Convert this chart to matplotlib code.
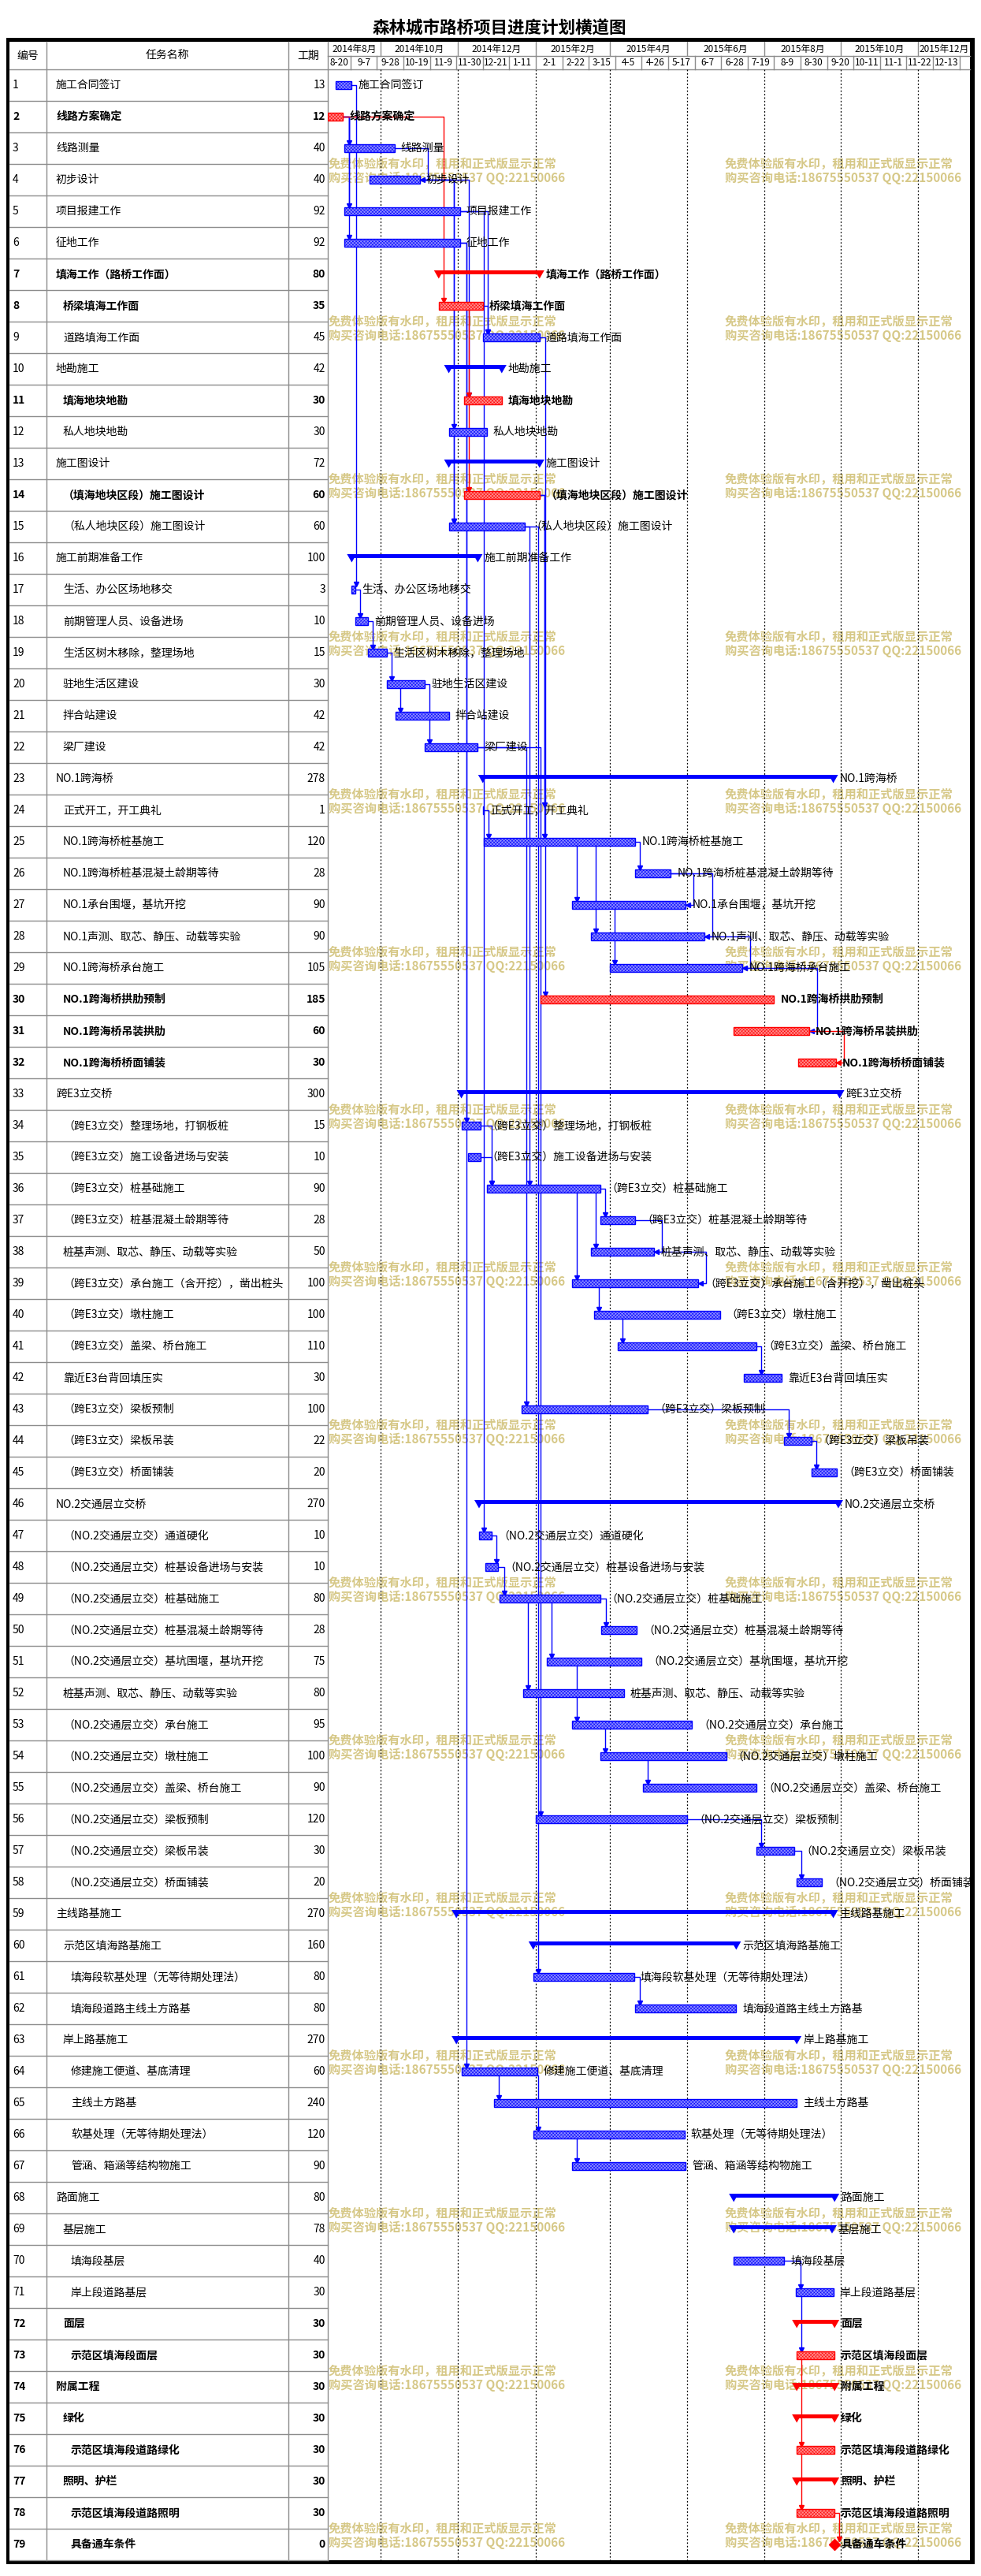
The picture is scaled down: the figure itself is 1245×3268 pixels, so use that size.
import datetime as dt
import matplotlib
matplotlib.use('Agg')
import matplotlib.pyplot as plt
from matplotlib.patches import Rectangle, Polygon

plt.rcParams['font.family'] = ['Noto Sans CJK SC', 'DejaVu Sans']
plt.rcParams['hatch.linewidth'] = 0.4

# ---------------- data ----------------
names = [
    '施工合同签订', '线路方案确定', '线路测量', '初步设计', '项目报建工作', '征地工作',
    '填海工作（路桥工作面）', '桥梁填海工作面', '道路填海工作面', '地勘施工', '填海地块地勘',
    '私人地块地勘', '施工图设计', '（填海地块区段）施工图设计', '（私人地块区段）施工图设计',
    '施工前期准备工作', '生活、办公区场地移交', '前期管理人员、设备进场', '生活区树木移除，整理场地',
    '驻地生活区建设', '拌合站建设', '梁厂建设', 'NO.1跨海桥', '正式开工，开工典礼',
    'NO.1跨海桥桩基施工', 'NO.1跨海桥桩基混凝土龄期等待', 'NO.1承台围堰，基坑开挖',
    'NO.1声测、取芯、静压、动载等实验', 'NO.1跨海桥承台施工', 'NO.1跨海桥拱肋预制',
    'NO.1跨海桥吊装拱肋', 'NO.1跨海桥桥面铺装', '跨E3立交桥', '（跨E3立交）整理场地，打钢板桩',
    '（跨E3立交）施工设备进场与安装', '（跨E3立交）桩基础施工', '（跨E3立交）桩基混凝土龄期等待',
    '桩基声测、取芯、静压、动载等实验', '（跨E3立交）承台施工（含开挖），凿出桩头',
    '（跨E3立交）墩柱施工', '（跨E3立交）盖梁、桥台施工', '靠近E3台背回填压实',
    '（跨E3立交）梁板预制', '（跨E3立交）梁板吊装', '（跨E3立交）桥面铺装', 'NO.2交通层立交桥',
    '（NO.2交通层立交）通道硬化', '（NO.2交通层立交）桩基设备进场与安装',
    '（NO.2交通层立交）桩基础施工', '（NO.2交通层立交）桩基混凝土龄期等待',
    '（NO.2交通层立交）基坑围堰，基坑开挖', '桩基声测、取芯、静压、动载等实验',
    '（NO.2交通层立交）承台施工', '（NO.2交通层立交）墩柱施工', '（NO.2交通层立交）盖梁、桥台施工',
    '（NO.2交通层立交）梁板预制', '（NO.2交通层立交）梁板吊装', '（NO.2交通层立交）桥面铺装',
    '主线路基施工', '示范区填海路基施工', '填海段软基处理（无等待期处理法）', '填海段道路主线土方路基',
    '岸上路基施工', '修建施工便道、基底清理', '主线土方路基', '软基处理（无等待期处理法）',
    '管涵、箱涵等结构物施工', '路面施工', '基层施工', '填海段基层', '岸上段道路基层', '面层',
    '示范区填海段面层', '附属工程', '绿化', '示范区填海段道路绿化', '照明、护栏',
    '示范区填海段道路照明', '具备通车条件']

levels = [0, 0, 0, 0, 0, 0, 0, 1, 1, 0, 1, 1, 0, 1, 1, 0, 1, 1, 1, 1, 1, 1, 0, 1, 1, 1, 1, 1, 1, 1,
          1, 1, 0, 1, 1, 1, 1, 1, 1, 1, 1, 1, 1, 1, 1, 0, 1, 1, 1, 1, 1, 1, 1, 1, 1, 1, 1, 1, 0, 1,
          2, 2, 1, 2, 2, 2, 2, 0, 1, 2, 2, 1, 2, 0, 1, 2, 1, 2, 2]

durations = [13, 12, 40, 40, 92, 92, 80, 35, 45, 42, 30, 30, 72, 60, 60, 100, 3, 10, 15, 30, 42, 42,
             278, 1, 120, 28, 90, 90, 105, 185, 60, 30, 300, 15, 10, 90, 28, 50, 100, 100, 110, 30,
             100, 22, 20, 270, 10, 10, 80, 28, 75, 80, 95, 100, 90, 120, 30, 20, 270, 160, 80, 80,
             270, 60, 240, 120, 90, 80, 78, 40, 30, 30, 30, 30, 30, 30, 30, 30, 0]

# start / finish of each bar, days after 2014-08-20
starts = [6, 0, 13, 33, 13, 13, 88, 88, 123, 96, 108, 96, 96, 108, 96, 19, 19, 22, 32, 47, 54, 77,
          123, 123, 124, 244, 194, 209, 224, 169, 322, 373, 106, 106, 111, 126, 216, 209, 194,
          211, 230, 330, 154, 362, 384, 120, 120, 125, 136, 217, 174, 155, 194, 216, 250, 165,
          340, 372, 102, 163, 163, 244, 102, 106, 132, 163, 194, 322, 322, 322, 371, 372, 372,
          372, 372, 372, 372, 372, 402]
finishes = [19, 12, 53, 73, 105, 105, 168, 123, 168, 138, 138, 126, 168, 168, 156, 119, 22, 32, 47,
            77, 96, 119, 401, 124, 244, 272, 284, 299, 329, 354, 382, 403, 406, 121, 121, 216, 244,
            259, 294, 311, 340, 360, 254, 384, 404, 405, 130, 135, 216, 245, 249, 235, 289, 316,
            340, 285, 370, 392, 401, 324, 243, 324, 372, 166, 372, 283, 284, 402, 400, 362, 401,
            402, 402, 402, 402, 402, 402, 402, 402]

summary_rows = [7, 10, 13, 16, 23, 33, 46, 59, 60, 63, 68, 69, 72, 74, 75, 77]
critical_rows = [2, 7, 8, 11, 14, 30, 31, 32, 72, 73, 74, 75, 76, 77, 78, 79]
milestone_rows = [79]

# dependency links (predecessor, successor, type)
links = [(1, 17, 'FS'), (2, 3, 'FS'), (2, 5, 'FS'), (2, 6, 'FS'), (2, 8, 'FS'), (3, 4, 'FF'),
         (4, 12, 'FS'), (4, 15, 'FS'), (4, 11, 'FS'), (5, 9, 'FS'), (6, 34, 'FS'), (6, 64, 'FS'),
         (5, 47, 'FS'), (9, 30, 'FS'), (14, 25, 'FS'), (14, 24, 'FS'), (15, 36, 'FS'),
         (22, 43, 'FS'), (22, 56, 'FS'), (15, 61, 'FS'),
         (8, 9, 'FS'), (8, 11, 'SS'), (11, 14, 'SS'), (12, 15, 'SS'), (17, 18, 'FS'),
         (18, 19, 'FS'), (19, 20, 'FS'), (20, 21, 'SS'), (20, 22, 'FS'), (24, 25, 'FS'),
         (25, 26, 'FS'), (25, 27, 'SS'), (25, 28, 'SS'), (27, 29, 'SS'), (26, 27, 'FF'),
         (26, 28, 'FF'), (28, 29, 'FF'), (29, 31, 'FF'), (31, 32, 'FF'), (34, 36, 'FS'),
         (35, 36, 'FS'), (36, 37, 'FS'), (36, 38, 'SS'), (36, 39, 'SS'), (37, 38, 'FF'),
         (38, 39, 'FF'), (39, 40, 'SS'), (40, 41, 'SS'), (41, 42, 'FS'), (43, 44, 'FS'),
         (44, 45, 'FS'), (47, 48, 'FS'), (48, 49, 'FS'), (49, 50, 'FS'), (49, 51, 'SS'),
         (49, 52, 'SS'), (51, 53, 'SS'), (53, 54, 'SS'), (54, 55, 'SS'), (56, 57, 'FS'),
         (57, 58, 'FS'), (61, 62, 'FS'), (64, 65, 'SS'), (64, 66, 'SS'), (66, 67, 'SS'),
         (70, 71, 'FS'), (71, 73, 'SS'), (73, 76, 'SS'), (76, 78, 'SS'), (78, 79, 'FS')]

base = dt.date(2014, 8, 20)
month_dates = [dt.date(2014, 8, 20), dt.date(2014, 10, 1), dt.date(2014, 12, 1), dt.date(2015, 2, 1),
               dt.date(2015, 4, 1), dt.date(2015, 6, 1), dt.date(2015, 8, 1), dt.date(2015, 10, 1),
               dt.date(2015, 12, 1)]
month_labels = ['2014年8月', '2014年10月', '2014年12月', '2015年2月', '2015年4月', '2015年6月',
                '2015年8月', '2015年10月', '2015年12月']
week_dates = [base] + [dt.date(2014, 9, 7) + dt.timedelta(days=21 * k) for k in range(24)]
x_end = 509.4

# ---------------- layout (pixels) ----------------
W, H = 1245, 3268
L, C1, C2, C3, R = 12, 59, 366, 416, 1231
HT, HM, BT, BB = 53, 71, 88, 3248
ROW = 40
N = len(names)

fig = plt.figure(figsize=(W / 100, H / 100), dpi=100)
bg = fig.add_axes([0, 0, 1, 1])
bg.set_xlim(0, W)
bg.set_ylim(H, 0)
bg.axis('off')

GRAY = '#8c8c8c'
BLUE = '#0000ff'
RED = '#ff0000'

bg.text(634, 36, '森林城市路桥项目进度计划横道图', fontsize=15.5, fontweight='bold',
        ha='center', va='center')

# table header
for xc, t in [((L + C1) / 2, '编号'), ((C1 + C2) / 2, '任务名称'), ((C2 + C3) / 2, '工期')]:
    bg.text(xc, 70.5, t, fontsize=10, ha='center', va='center')

# table grid
for i in range(N + 1):
    y = BT + i * ROW
    bg.plot([L, C3], [y, y], color=GRAY, lw=1)
bg.plot([C3, R], [BT, BT], color=GRAY, lw=1)
bg.plot([C3, R], [HM, HM], color=GRAY, lw=1)
for x in (C1, C2, C3):
    bg.plot([x, x], [HT, BB], color=GRAY, lw=1)

# table body
for i in range(N):
    yc = BT + i * ROW + ROW / 2
    bold = 'bold' if (i + 1) in critical_rows else 'normal'
    bg.text(16, yc, str(i + 1), fontsize=10, fontweight=bold, ha='left', va='center')
    bg.text([71, 80, 90][levels[i]], yc, names[i], fontsize=10, fontweight=bold,
            ha='left', va='center')
    bg.text(413, yc, str(durations[i]), fontsize=10, fontweight=bold, ha='right', va='center')

# watermark
wm1 = '免费体验版有水印，租用和正式版显示正常'
wm2 = '购买咨询电话:18675550537 QQ:22150066'
for k in range(16):
    for x0 in (417, 920):
        bg.text(x0, 208 + 200 * k, wm1, fontsize=11, fontweight='bold', color='#d2c27a',
                alpha=0.9, ha='left', va='center', zorder=6)
        bg.text(x0, 226 + 200 * k, wm2, fontsize=11, fontweight='bold', color='#d2c27a',
                alpha=0.9, ha='left', va='center', zorder=6)

# thick outer frame
bg.add_patch(Rectangle((8, 48), 1229, 5, color='black', lw=0))
bg.add_patch(Rectangle((8, 48), 4, 3205, color='black', lw=0))
bg.add_patch(Rectangle((1231, 48), 6, 3205, color='black', lw=0))
bg.add_patch(Rectangle((8, 3248), 1229, 5, color='black', lw=0))

# ---------------- chart axes (days x rows) ----------------
ax = fig.add_axes([C3 / W, 1 - BB / H, (R - C3) / W, (BB - HT) / H])
ax.set_xlim(0, x_end)
rows_head = (BT - HT) / ROW
ax.set_ylim(N, -rows_head)
ax.axis('off')
ax.patch.set_alpha(0)
PXD = x_end / (R - C3)     # days per pixel
PXR = 1 / ROW              # rows per pixel

# header cells
yh0, yhm = -rows_head, -(BT - HM) / ROW
m_off = [(d - base).days for d in month_dates] + [x_end]
for j, lab in enumerate(month_labels):
    ax.text((m_off[j] + m_off[j + 1]) / 2, (yh0 + yhm) / 2, lab, fontsize=8.5,
            ha='center', va='center')
    if j > 0:
        ax.plot([m_off[j], m_off[j]], [yh0, yhm], color=GRAY, lw=1)
        ax.plot([m_off[j], m_off[j]], [0, N], color='black', lw=0.9, ls=(0, (1.5, 2)))
w_off = [(d - base).days for d in week_dates]
for j in range(len(w_off) - 1):
    lab = '%d-%d' % (week_dates[j].month, week_dates[j].day)
    ax.text((w_off[j] + w_off[j + 1]) / 2, yhm / 2, lab, fontsize=8.5, ha='center', va='center')
for x in w_off[1:]:
    ax.plot([x, x], [yhm, 0], color=GRAY, lw=1)

BH = 4.75 * PXR

for i in range(N):
    r = i + 1
    yc = i + 0.5
    crit = r in critical_rows
    col = RED if crit else BLUE
    s0, f0 = starts[i], finishes[i]
    if r in summary_rows:
        ax.add_patch(Rectangle((s0, yc - 5 * PXR), f0 - s0, 5 * PXR,
                               color=col, lw=0, zorder=3))
        for x in (s0, f0):
            ax.add_patch(Polygon([(x - 6 * PXD, yc - 5 * PXR), (x + 6 * PXD, yc - 5 * PXR),
                                  (x, yc + 5.5 * PXR)], closed=True, color=col, lw=0, zorder=3))
    elif r in milestone_rows:
        ax.plot(s0, yc, marker='D', ms=7, color=col, zorder=3)
    else:
        ax.add_patch(Rectangle((s0, yc - BH), max(f0 - s0, 0.8), 2 * BH,
                               facecolor='#ff8c8c' if crit else '#8c8cff',
                               edgecolor=col, hatch='x' * 8, lw=1, zorder=3))
    ax.text(f0 + 8 * PXD, yc, names[i], fontsize=10, fontweight='bold' if crit else 'normal',
            ha='left', va='center', zorder=4)

for p, s, kind in links:
    col = RED if (p in critical_rows and s in critical_rows) else BLUE
    yp, ys = p - 0.5, s - 0.5
    pe, ss, se = finishes[p - 1], starts[s - 1], finishes[s - 1]
    if kind == 'FS':
        xv = ss + 6 * PXD
        if xv < pe:
            xv = pe + 6 * PXD
        ax.plot([pe, xv, xv], [yp, yp, ys - BH - 2 * PXR], color=col, lw=1, zorder=2)
        ax.plot(xv, ys - BH - 2 * PXR, marker='v', ms=4, color=col, zorder=2)
    elif kind == 'SS':
        xv = ss + 6 * PXD
        ax.plot([xv, xv], [yp + BH, ys - BH - 2 * PXR], color=col, lw=1, zorder=2)
        ax.plot(xv, ys - BH - 2 * PXR, marker='v', ms=4, color=col, zorder=2)
    else:
        xv = max(pe, se) + 10 * PXD
        ax.plot([pe, xv, xv, se + 3 * PXD], [yp, yp, ys, ys], color=col, lw=1, zorder=2)
        ax.plot(se + 3 * PXD, ys, marker='<', ms=4, color=col, zorder=2)

fig.savefig('out.png', dpi=100)
plt.close(fig)
